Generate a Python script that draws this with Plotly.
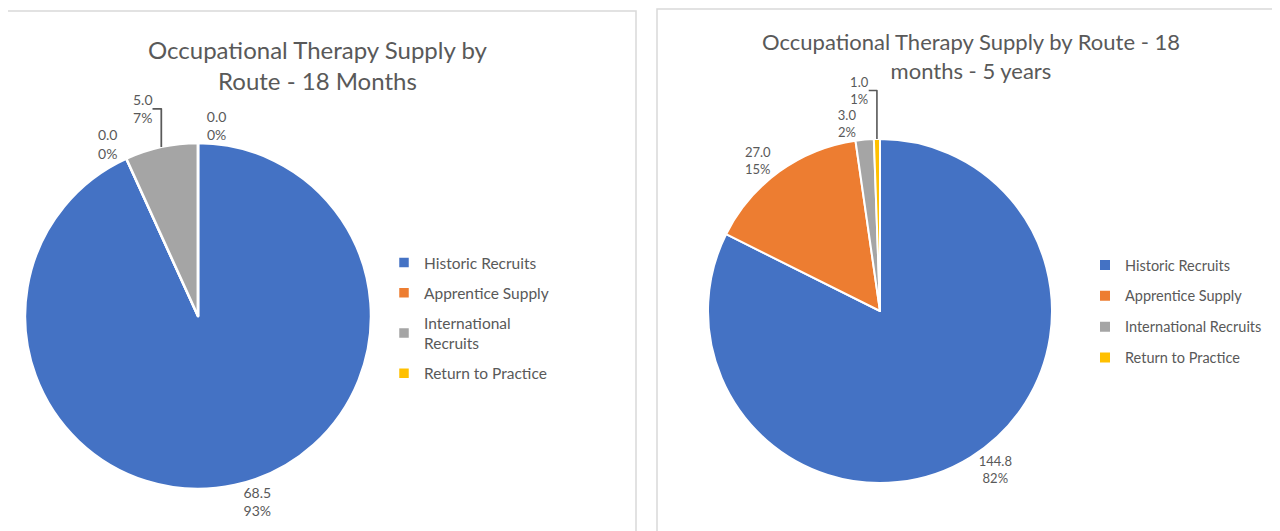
import plotly.graph_objects as go

# Supply by route, two periods
routes = ['Historic Recruits', 'Apprentice Supply', 'International Recruits', 'Return to Practice']
routes_left = ['Historic Recruits', 'Apprentice Supply', 'International<br>Recruits', 'Return to Practice']
supply_18m = [68.5, 0.0, 5.0, 0.0]
supply_18m_5y = [144.8, 27.0, 3.0, 1.0]

colors = ['#4472C4', '#ED7D31', '#A5A5A5', '#FFC000']
FONT = 'Lato'
GREY_TEXT = '#595959'

# the page body has an 8px margin, so the figure is drawn a bit smaller
PAD = 8
W, H = 1280 - PAD, 531 - PAD


def px_x(v):
    # screen pixel -> paper x
    return (v - PAD) / W


def px_y(v):
    # screen pixel -> paper y
    return 1 - (v - PAD) / H


# pie labels must differ between the two pies, otherwise the second legend
# drops the entries already listed in the first one
routes_right = ['<span>%s</span>' % r for r in routes]

fig = go.Figure()

fig.add_trace(go.Pie(
    labels=routes_left,
    values=supply_18m,
    sort=False,
    direction='clockwise',
    rotation=0,
    marker=dict(colors=colors, line=dict(color='white', width=2.5)),
    textposition='outside',
    texttemplate='%{value:.1f}<br>%{percent:.0%}',
    textfont=dict(family=FONT, size=14, color=GREY_TEXT),
    domain=dict(x=[px_x(25), px_x(371)], y=[px_y(489), px_y(143)]),
    legend='legend',
    hoverinfo='label+value+percent',
))

fig.add_trace(go.Pie(
    labels=routes_right,
    values=supply_18m_5y,
    sort=False,
    direction='clockwise',
    rotation=0,
    marker=dict(colors=colors, line=dict(color='white', width=2)),
    textposition='outside',
    texttemplate='%{value:.1f}<br>%{percent:.0%}',
    textfont=dict(family=FONT, size=13, color=GREY_TEXT),
    domain=dict(x=[px_x(708), px_x(1052)], y=[px_y(483), px_y(139)]),
    legend='legend2',
    hoverinfo='label+value+percent',
))

# invisible helper entries with a named legendgroup: without one, plotly
# collapses the slice entries into a single group and ignores tracegroupgap
for lg in ['legend', 'legend2']:
    fig.add_trace(go.Pie(
        labels=[' '], values=[1], legendgroup='pad_' + lg, legend=lg,
        marker=dict(colors=['rgba(0,0,0,0)'], line=dict(width=0)),
        textinfo='none', hoverinfo='skip',
        domain=dict(x=[0, 0.001], y=[0, 0.001]),
    ))

# panel frames
for x0, y0, x1 in [(5, 11, 636), (657, 9, 1278)]:
    fig.add_shape(type='rect', xref='paper', yref='paper',
                  x0=px_x(x0), x1=px_x(x1), y0=px_y(545), y1=px_y(y0),
                  line=dict(color='#D9D9D9', width=1.5), fillcolor='rgba(0,0,0,0)')

# chart titles
fig.add_annotation(text='Occupational Therapy Supply by<br>Route - 18 Months',
                   x=px_x(318), y=px_y(65), xref='paper', yref='paper',
                   xanchor='center', yanchor='middle',
                   showarrow=False, font=dict(family=FONT, size=24, color=GREY_TEXT))
fig.add_annotation(text='Occupational Therapy Supply by Route - 18<br>months - 5 years',
                   x=px_x(971), y=px_y(56), xref='paper', yref='paper',
                   xanchor='center', yanchor='middle',
                   showarrow=False, font=dict(family=FONT, size=22, color=GREY_TEXT))

legend_style = dict(traceorder='grouped', bgcolor='rgba(0,0,0,0)',
                    xanchor='left', yanchor='top', itemclick=False)

fig.update_layout(
    width=W, height=H,
    margin=dict(l=0, r=0, t=0, b=0),
    paper_bgcolor='white',
    plot_bgcolor='white',
    font=dict(family=FONT, color=GREY_TEXT),
    showlegend=True,
    legend=dict(x=px_x(384), y=px_y(246), tracegroupgap=7,
                font=dict(family=FONT, size=15.5, color=GREY_TEXT), **legend_style),
    legend2=dict(x=px_x(1085), y=px_y(249), tracegroupgap=9,
                 font=dict(family=FONT, size=14.5, color=GREY_TEXT), **legend_style),
)

fig.write_html('out.html')
